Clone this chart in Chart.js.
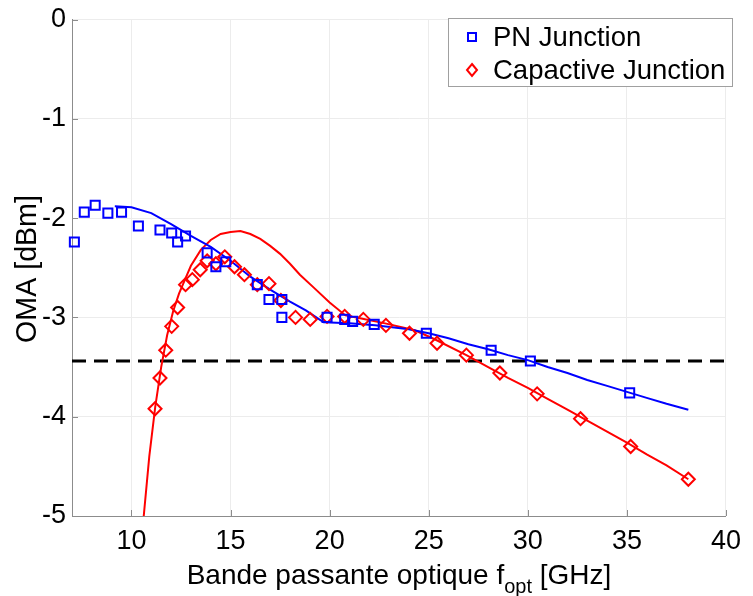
<!DOCTYPE html>
<html>
<head>
<meta charset="utf-8">
<script src="https://cdn.jsdelivr.net/npm/chart.js@4.4.0/dist/chart.umd.min.js"></script>
<style>
  html, body { margin: 0; padding: 0; background: #fff; }
</style>
</head>
<body>
<canvas id="omaChart" width="753" height="596"></canvas>
<script>
// measured points, PN junction (blue squares)
const pnX = [7.12, 7.62, 8.17, 8.81, 9.50, 10.35, 11.44, 12.03, 12.33, 12.73, 13.82, 14.26, 14.76,
             16.35, 16.94, 17.59, 17.59, 19.87, 20.76, 21.16, 22.25, 24.88, 28.15, 30.13, 35.14];
const pnY = [-2.24, -1.94, -1.87, -1.95, -1.94, -2.08, -2.12, -2.15, -2.24, -2.18, -2.35, -2.49, -2.44,
             -2.67, -2.82, -2.82, -3.00, -3.00, -3.02, -3.04, -3.07, -3.16, -3.33, -3.44, -3.76];

// measured points, capacitive junction (red diamonds)
const capX = [11.19, 11.44, 11.73, 12.03, 12.33, 12.73, 13.07, 13.47, 13.82, 14.26, 14.71, 15.20, 15.70,
              16.35, 16.94, 17.54, 18.28, 19.02, 19.87, 20.76, 21.70, 22.84, 24.03, 25.42, 26.90,
              28.59, 30.47, 32.66, 35.19, 38.10];
const capY = [-3.92, -3.61, -3.33, -3.09, -2.90, -2.67, -2.62, -2.52, -2.43, -2.46, -2.39, -2.49, -2.57,
              -2.67, -2.66, -2.83, -3.00, -3.02, -2.99, -2.99, -3.02, -3.08, -3.16, -3.26, -3.38,
              -3.56, -3.77, -4.02, -4.30, -4.63];

// model curves
const pnFitX = [9.16, 10, 11, 12, 13, 14, 15, 16, 17, 18, 18.8, 19.7, 21, 22.3, 24, 25, 26, 27, 28,
                29, 30, 31, 32, 33, 34, 35, 36, 37, 38.1];
const pnFitY = [-1.88, -1.89, -1.95, -2.06, -2.18, -2.29, -2.43, -2.59, -2.72, -2.84, -2.93, -3.05, -3.06, -3.08,
                -3.12, -3.16, -3.21, -3.27, -3.32, -3.38, -3.43, -3.50, -3.56, -3.63, -3.69, -3.75, -3.81, -3.87, -3.93];

const capFitX = [10.62, 10.9, 11.2, 11.5, 11.8, 12.1, 12.4, 12.7, 13.0, 13.5, 14.0, 14.5, 15.0, 15.5, 16.0,
                 16.5, 17.0, 17.5, 18.0, 18.5, 19.2, 20.0, 20.8, 21.6, 22.8, 24.3, 25.3, 26.9, 28, 29, 30,
                 31, 32, 33, 34, 35, 36, 37, 38.1];
const capFitY = [-5.0, -4.4, -3.9, -3.5, -3.18, -2.94, -2.76, -2.62, -2.48, -2.32, -2.22, -2.16, -2.14, -2.13, -2.16,
                 -2.21, -2.28, -2.36, -2.46, -2.57, -2.70, -2.85, -2.98, -3.01, -3.06, -3.13, -3.22, -3.38, -3.50,
                 -3.61, -3.71, -3.82, -3.93, -4.04, -4.15, -4.26, -4.38, -4.49, -4.63];

// sensitivity limit (dashed)
const limitX = [7, 40];
const limitY = [-3.44, -3.44];

const xTicks = [10, 15, 20, 25, 30, 35, 40];
const yTicks = [-5, -4, -3, -2, -1, 0];

const FONT = '"Liberation Sans", Arial, sans-serif';

function pts(xs, ys) {
    return xs.map((x, i) => ({ x: x, y: ys[i] }));
}

// inner ticks, axis titles and boxed legend
const frame = {
    id: 'frame',
    afterDraw(chart) {
        const ctx = chart.ctx;
        const a = chart.chartArea;
        const sx = chart.scales.x, sy = chart.scales.y;
        ctx.save();

        ctx.strokeStyle = '#8c8c8c';
        ctx.lineWidth = 1;
        ctx.beginPath();
        xTicks.forEach(v => {
            const px = Math.round(sx.getPixelForValue(v)) + 0.5;
            ctx.moveTo(px, a.bottom); ctx.lineTo(px, a.bottom - 6);
        });
        yTicks.forEach(v => {
            const py = Math.round(sy.getPixelForValue(v)) + 0.5;
            ctx.moveTo(a.left, py); ctx.lineTo(a.left + 6, py);
        });
        ctx.stroke();

        // x title with subscript
        ctx.fillStyle = '#000';
        ctx.textBaseline = 'alphabetic';
        ctx.textAlign = 'left';
        const t1 = 'Bande passante optique f', sub = 'opt', t2 = ' [GHz]';
        ctx.font = '28px ' + FONT;
        const w1 = ctx.measureText(t1).width, w3 = ctx.measureText(t2).width;
        ctx.font = '20px ' + FONT;
        const w2 = ctx.measureText(sub).width;
        const tx = (a.left + a.right) / 2 - (w1 + w2 + w3) / 2;
        const base = 584;
        ctx.font = '28px ' + FONT;
        ctx.fillText(t1, tx, base);
        ctx.font = '20px ' + FONT;
        ctx.fillText(sub, tx + w1, base + 9);
        ctx.font = '28px ' + FONT;
        ctx.fillText(t2, tx + w1 + w2, base);

        // y title
        ctx.save();
        ctx.translate(36, 269);
        ctx.rotate(-Math.PI / 2);
        ctx.textAlign = 'center';
        ctx.font = '28.6px ' + FONT;
        ctx.fillText('OMA [dBm]', 0, 0);
        ctx.restore();

        // legend
        ctx.fillStyle = '#fff';
        ctx.fillRect(448, 18, 284, 68);
        ctx.strokeStyle = '#a0a0a0';
        ctx.strokeRect(448.5, 18.5, 284, 68);
        ctx.lineWidth = 2;
        ctx.strokeStyle = '#0000ff';
        ctx.strokeRect(468, 33, 8, 8);
        ctx.strokeStyle = '#ff0000';
        ctx.beginPath();
        ctx.moveTo(472, 64); ctx.lineTo(477, 70); ctx.lineTo(472, 76); ctx.lineTo(467, 70); ctx.closePath();
        ctx.stroke();
        ctx.fillStyle = '#000';
        ctx.textAlign = 'left';
        ctx.textBaseline = 'middle';
        ctx.font = '27.5px ' + FONT;
        ctx.fillText('PN Junction', 493, 38);
        ctx.fillText('Capactive Junction', 493, 71);

        ctx.restore();
    }
};

new Chart(document.getElementById('omaChart'), {
    type: 'scatter',
    data: {
        datasets: [
            {
                label: 'PN Junction',
                data: pts(pnX, pnY),
                pointStyle: 'rect',
                pointRadius: 6.4,
                borderColor: '#0000ff',
                backgroundColor: 'rgba(0,0,0,0)',
                pointBorderWidth: 2,
                clip: false
            },
            {
                label: 'Capactive Junction',
                data: pts(capX, capY),
                pointStyle: 'rectRot',
                pointRadius: 6.5,
                borderColor: '#ff0000',
                backgroundColor: 'rgba(0,0,0,0)',
                pointBorderWidth: 2,
                clip: false
            },
            {
                label: 'PN model',
                data: pts(pnFitX, pnFitY),
                showLine: true,
                pointRadius: 0,
                borderColor: '#0000ff',
                borderWidth: 2,
                tension: 0
            },
            {
                label: 'Capacitive model',
                data: pts(capFitX, capFitY),
                showLine: true,
                pointRadius: 0,
                borderColor: '#ff0000',
                borderWidth: 2,
                tension: 0
            },
            {
                label: 'Limit',
                data: pts(limitX, limitY),
                showLine: true,
                pointRadius: 0,
                borderColor: '#000',
                borderWidth: 3,
                borderDash: [14, 8]
            }
        ]
    },
    options: {
        responsive: false,
        animation: false,
        layout: { padding: { top: 13, right: 16, left: 0, bottom: 0 } },
        plugins: { legend: { display: false }, tooltip: { enabled: false } },
        scales: {
            x: {
                type: 'linear',
                min: 7,
                max: 40,
                afterBuildTicks: s => { s.ticks = xTicks.map(v => ({ value: v })); },
                afterFit: s => { s.height = 80; },
                grid: { color: '#ececec', drawTicks: false },
                border: { color: '#8c8c8c' },
                ticks: { padding: 12, color: '#000', font: { family: FONT, size: 27, lineHeight: 1 } }
            },
            y: {
                min: -5,
                max: 0,
                afterBuildTicks: s => { s.ticks = yTicks.map(v => ({ value: v })); },
                afterFit: s => { s.width = 72; },
                grid: { color: '#ececec', drawTicks: false },
                border: { color: '#8c8c8c' },
                ticks: { padding: 6, color: '#000', font: { family: FONT, size: 27, lineHeight: 1 } }
            }
        }
    },
    plugins: [frame]
});
</script>
</body>
</html>
